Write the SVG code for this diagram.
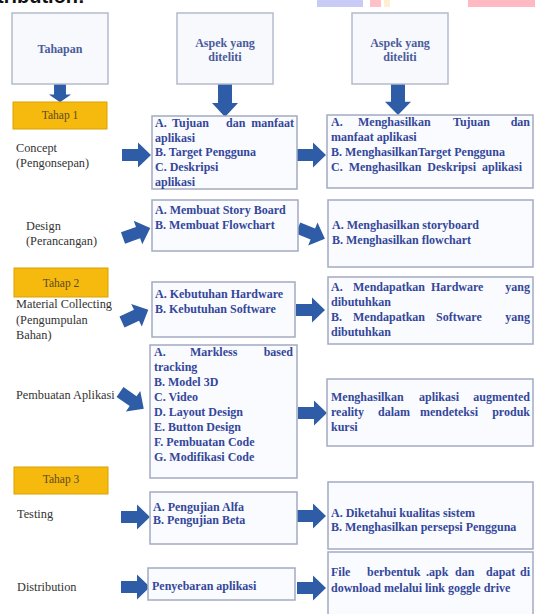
<svg xmlns="http://www.w3.org/2000/svg" width="535" height="614" viewBox="0 0 535 614">
<defs>
<style>
.hb{fill:#f8f9fd;stroke:#b3bbcc;stroke-width:1.5}
.bx{fill:#fafbff;stroke:#a3abc2;stroke-width:1.5}
.yl{fill:#f6b90d;stroke:#d9a200;stroke-width:1}
.ar{fill:#2f5ca6}
.ht{font-family:"Liberation Serif",serif;font-size:12px;font-weight:bold;fill:#4a5c9c;text-anchor:middle}
.bt{font-family:"Liberation Serif",serif;font-size:12px;font-weight:bold;fill:#34479a}
.e{text-anchor:end}
.lt{font-family:"Liberation Serif",serif;font-size:12.3px;fill:#333}
.tt{font-family:"Liberation Serif",serif;font-size:11.5px;fill:#5a4a22;text-anchor:middle}
</style>
<path id="ra" d="M0,-6 H16 V-12.5 L29,0 L16,12.5 V6 H0 Z"/>
<path id="da" d="M-7,0 V19 H-13 L0,33 L13,19 H7 V0 Z"/>
</defs>
<rect width="535" height="614" fill="#ffffff"/>
<text x="-3" y="3" font-family="Liberation Sans,sans-serif" font-size="20" font-weight="bold" fill="#111">tribution:</text>
<rect x="317" y="0" width="46" height="7" fill="#c9cbf7"/>
<rect x="370" y="0" width="11" height="7" fill="#ffc0c6"/>
<rect x="384" y="0" width="6" height="7" fill="#fff0d2"/>
<rect x="468" y="0" width="67" height="7" fill="#ffb9c2"/>

<g id="connectors">
<use href="#da" class="ar" transform="translate(60,84) scale(0.85,0.55)"/>
<use href="#da" class="ar" transform="translate(225,84)"/>
<use href="#da" class="ar" transform="translate(398,84) scale(1,0.94)"/>
<use href="#ra" class="ar" transform="translate(122,155)"/>
<use href="#ra" class="ar" transform="translate(297,155)"/>
<use href="#ra" class="ar" transform="translate(123,238) rotate(-20)"/>
<use href="#ra" class="ar" transform="translate(298,228) rotate(22)"/>
<use href="#ra" class="ar" transform="translate(122,322) rotate(-25)"/>
<use href="#ra" class="ar" transform="translate(296,310)"/>
<use href="#ra" class="ar" transform="translate(120,392) rotate(35)"/>
<use href="#ra" class="ar" transform="translate(298,413)"/>
<use href="#ra" class="ar" transform="translate(121,517)"/>
<use href="#ra" class="ar" transform="translate(297,516)"/>
<use href="#ra" class="ar" transform="translate(121,587)"/>
<use href="#ra" class="ar" transform="translate(297,588)"/>
</g>

<g id="hdr-tahapan"><rect class="hb" x="12" y="13" width="96" height="71"/><text class="ht" x="60" y="53">Tahapan</text></g>
<g id="hdr-aspek1"><rect class="hb" x="177" y="13" width="96" height="71"/><text class="ht" x="225" y="47">Aspek yang</text><text class="ht" x="225" y="61">diteliti</text></g>
<g id="hdr-aspek2"><rect class="hb" x="352" y="13" width="96" height="71"/><text class="ht" x="400" y="47">Aspek yang</text><text class="ht" x="400" y="61">diteliti</text></g>

<g id="tahap1"><rect class="yl" x="13" y="102" width="94" height="27"/><text class="tt" x="60" y="119">Tahap 1</text></g>
<g id="tahap2"><rect class="yl" x="14" y="268" width="94" height="29"/><text class="tt" x="61" y="287">Tahap 2</text></g>
<g id="tahap3"><rect class="yl" x="14" y="467" width="94" height="27"/><text class="tt" x="61" y="483">Tahap 3</text></g>

<g id="lbl-concept"><text class="lt" x="16" y="152">Concept</text><text class="lt" x="16" y="167">(Pengonsepan)</text></g>
<g id="lbl-design"><text class="lt" x="26" y="230">Design</text><text class="lt" x="26" y="245">(Perancangan)</text></g>
<g id="lbl-material"><text class="lt" x="16" y="308">Material Collecting</text><text class="lt" x="16" y="324">(Pengumpulan</text><text class="lt" x="16" y="339">Bahan)</text></g>
<g id="lbl-pembuatan"><text class="lt" x="16" y="399">Pembuatan Aplikasi</text></g>
<g id="lbl-testing"><text class="lt" x="17" y="518">Testing</text></g>
<g id="lbl-distribution"><text class="lt" x="17" y="591">Distribution</text></g>

<g id="concept-aspek"><rect class="bx" x="152" y="116" width="145" height="73"/>
<text class="bt" x="155" y="127">A.</text><text class="bt" x="172" y="127">Tujuan</text><text class="bt" x="226" y="127">dan</text><text class="bt e" x="294" y="127">manfaat</text>
<text class="bt" x="155" y="141.7">aplikasi</text>
<text class="bt" x="155" y="156.4">B. Target Pengguna</text>
<text class="bt" x="155" y="171.1">C. Deskripsi</text>
<text class="bt" x="155" y="185.8">aplikasi</text></g>
<g id="concept-hasil"><rect class="bx" x="327" y="115" width="206" height="73"/>
<text class="bt" x="331" y="126">A.</text><text class="bt" x="358" y="126">Menghasilkan</text><text class="bt" x="453" y="126">Tujuan</text><text class="bt e" x="530" y="126">dan</text>
<text class="bt" x="331" y="141">manfaat aplikasi</text>
<text class="bt" x="331" y="156">B. MenghasilkanTarget Pengguna</text>
<text class="bt" x="331" y="171" word-spacing="3">C. Menghasilkan Deskripsi aplikasi</text></g>

<g id="design-aspek"><rect class="bx" x="152" y="200" width="146" height="51"/>
<text class="bt" x="155" y="214">A. Membuat Story Board</text>
<text class="bt" x="155" y="229">B. Membuat Flowchart</text></g>
<g id="design-hasil"><rect class="bx" x="328" y="200" width="205" height="67"/>
<text class="bt" x="332" y="229">A. Menghasilkan storyboard</text>
<text class="bt" x="332" y="244">B. Menghasilkan flowchart</text></g>

<g id="material-aspek"><rect class="bx" x="152" y="282" width="143" height="55"/>
<text class="bt" x="155" y="298">A. Kebutuhan Hardware</text>
<text class="bt" x="155" y="313">B. Kebutuhan Software</text></g>
<g id="material-hasil"><rect class="bx" x="328" y="277" width="205" height="67"/>
<text class="bt" x="331" y="291">A.</text><text class="bt" x="353" y="291">Mendapatkan</text><text class="bt" x="431" y="291">Hardware</text><text class="bt e" x="530" y="291">yang</text>
<text class="bt" x="331" y="306">dibutuhkan</text>
<text class="bt" x="331" y="321">B.</text><text class="bt" x="353" y="321">Mendapatkan</text><text class="bt" x="436" y="321">Software</text><text class="bt e" x="530" y="321">yang</text>
<text class="bt" x="331" y="336">dibutuhkan</text></g>

<g id="pembuatan-aspek"><rect class="bx" x="150" y="345" width="147" height="133"/>
<text class="bt" x="154" y="356">A.</text><text class="bt" x="190" y="356">Markless</text><text class="bt e" x="293" y="356">based</text>
<text class="bt" x="154" y="371">tracking</text>
<text class="bt" x="154" y="386">B. Model 3D</text>
<text class="bt" x="154" y="401">C. Video</text>
<text class="bt" x="154" y="416">D. Layout Design</text>
<text class="bt" x="154" y="431">E. Button Design</text>
<text class="bt" x="154" y="446">F. Pembuatan Code</text>
<text class="bt" x="154" y="461">G. Modifikasi Code</text></g>
<g id="pembuatan-hasil"><rect class="bx" x="327" y="379" width="206" height="67"/>
<text class="bt" x="331" y="401">Menghasilkan</text><text class="bt" x="419" y="401">aplikasi</text><text class="bt e" x="530" y="401">augmented</text>
<text class="bt" x="331" y="416">reality</text><text class="bt" x="378" y="416">dalam</text><text class="bt" x="420" y="416">mendeteksi</text><text class="bt e" x="530" y="416">produk</text>
<text class="bt" x="331" y="431">kursi</text></g>

<g id="testing-aspek"><rect class="bx" x="150" y="492" width="147" height="52"/>
<text class="bt" x="153" y="511">A. Pengujian Alfa</text>
<text class="bt" x="153" y="524">B. Pengujian Beta</text></g>
<g id="testing-hasil"><rect class="bx" x="328" y="482" width="205" height="67"/>
<text class="bt" x="331" y="517">A. Diketahui kualitas sistem</text>
<text class="bt" x="331" y="531">B. Menghasilkan persepsi Pengguna</text></g>

<g id="dist-aspek"><rect class="bx" x="148" y="568" width="147" height="32"/>
<text class="bt" x="152" y="590">Penyebaran aplikasi</text></g>
<g id="dist-hasil"><rect class="bx" x="328" y="552" width="205" height="66"/>
<text class="bt" x="331" y="576">File</text><text class="bt" x="367" y="576">berbentuk</text><text class="bt" x="426" y="576">.apk</text><text class="bt" x="455" y="576">dan</text><text class="bt" x="486" y="576">dapat</text><text class="bt e" x="530" y="576">di</text>
<text class="bt" x="331" y="592">download melalui link goggle drive</text></g>
</svg>
